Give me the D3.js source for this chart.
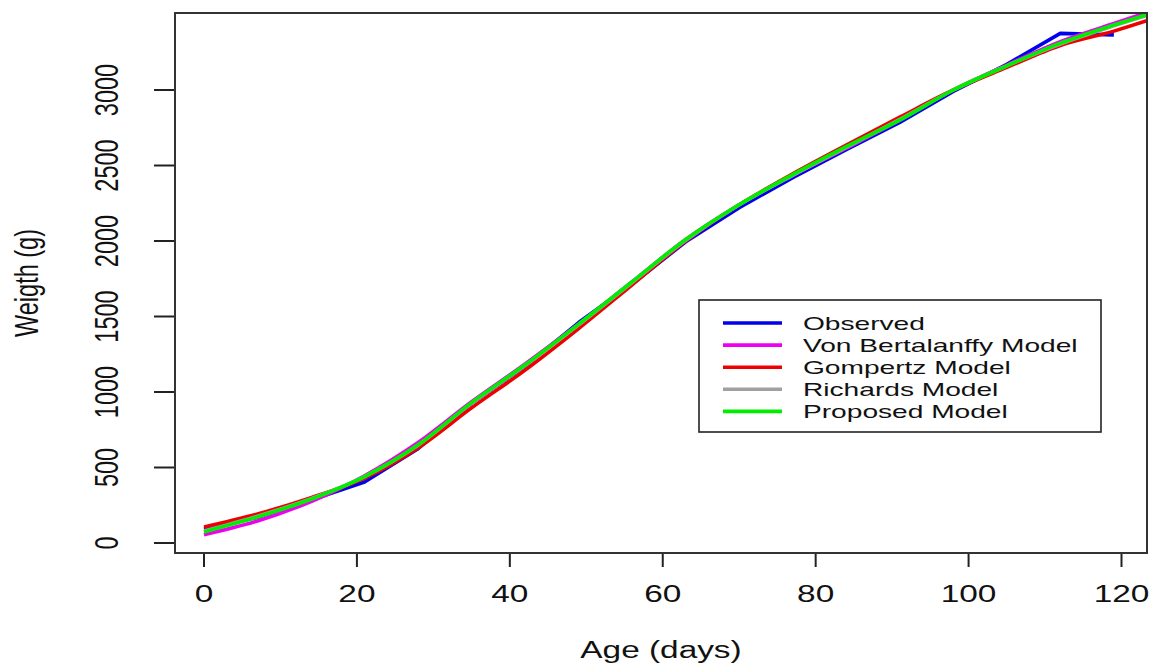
<!DOCTYPE html>
<html>
<head>
<meta charset="utf-8">
<script src="https://cdnjs.cloudflare.com/ajax/libs/d3/7.8.5/d3.min.js"></script>
<style>
	body { margin: 0; background: #fff; }
	text { font-family: "Liberation Sans", Arial, sans-serif; fill: #111; }
</style>
</head>
<body>
<script>

//age in days of every reading
let days = [0, 7, 14, 21, 28, 35, 42, 49, 56, 63, 70, 77, 84, 91, 98, 105, 112, 119];
let observed = [93, 170, 285, 404, 625, 925, 1170, 1460, 1715, 1995, 2220, 2420, 2605, 2785, 2990, 3170, 3375, 3365];

//the fitted curves run a little past the last reading
let modelDays = [0, 7, 14, 21, 28, 35, 42, 49, 56, 63, 70, 77, 84, 91, 98, 105, 112, 119, 124];
let vonBertalanffy = [55, 146, 275, 445, 665, 935, 1185, 1450, 1730, 2010, 2240, 2435, 2615, 2800, 3000, 3165, 3320, 3440, 3525];
let gompertz = [106, 192, 300, 430, 630, 895, 1145, 1420, 1710, 2000, 2240, 2445, 2635, 2820, 3000, 3150, 3295, 3390, 3470];
let richards = [80, 178, 294, 440, 648, 925, 1175, 1445, 1725, 2005, 2240, 2435, 2620, 2805, 3000, 3160, 3305, 3425, 3505];
let proposed = [73, 172, 290, 440, 650, 930, 1180, 1450, 1730, 2010, 2240, 2440, 2625, 2800, 3000, 3160, 3310, 3430, 3510];

let xTicks = [0, 20, 40, 60, 80, 100, 120];
let yTicks = [0, 500, 1000, 1500, 2000, 2500, 3000];

let seriesNames = ["Observed", "Von Bertalanffy Model", "Gompertz Model", "Richards Model", "Proposed Model"];
let seriesColors = ["#0000ee", "#ee00ee", "#ee0000", "#a0a0a0", "#00ee00"];

let svg = d3.select("body").append("svg")
	.attr("width", 1153)
	.attr("height", 663);

//plot box edges
let box = { left: 175, right: 1147, top: 13, bottom: 553 };
let stretch = 1.42; //the picture is wider than it is tall, text too

let x = d3.scaleLinear().domain([0, 120]).range([204, 1121.5]);
let y = d3.scaleLinear().domain([0, 3000]).range([543, 90]);

svg.append("clipPath").attr("id", "plotClip")
	.append("rect")
	.attr("x", box.left).attr("y", box.top)
	.attr("width", box.right - box.left).attr("height", box.bottom - box.top);

//lines, observed first so the models sit on top
let lineData = [
	{ name: seriesNames[0], color: seriesColors[0], pts: days.map((d, i) => [d, observed[i]]), curve: d3.curveLinear },
	{ name: seriesNames[1], color: seriesColors[1], pts: modelDays.map((d, i) => [d, vonBertalanffy[i]]), curve: d3.curveMonotoneX },
	{ name: seriesNames[2], color: seriesColors[2], pts: modelDays.map((d, i) => [d, gompertz[i]]), curve: d3.curveMonotoneX },
	{ name: seriesNames[3], color: seriesColors[3], pts: modelDays.map((d, i) => [d, richards[i]]), curve: d3.curveMonotoneX },
	{ name: seriesNames[4], color: seriesColors[4], pts: modelDays.map((d, i) => [d, proposed[i]]), curve: d3.curveMonotoneX }
];

let plotG = svg.append("g").attr("clip-path", "url(#plotClip)");

plotG.selectAll("path")
	.data(lineData)
	.enter().append("path")
	.attr("fill", "none")
	.attr("stroke", d => d.color)
	.attr("stroke-width", 3.6)
	.attr("stroke-linejoin", "round")
	.attr("d", d => d3.line().curve(d.curve).x(p => x(p[0])).y(p => y(p[1]))(d.pts));

//box round the plot
svg.append("rect")
	.attr("x", box.left).attr("y", box.top)
	.attr("width", box.right - box.left).attr("height", box.bottom - box.top)
	.attr("fill", "none")
	.attr("stroke", "#333")
	.attr("stroke-width", 2);

//x axis ticks and labels
let xAxis = svg.append("g");
xAxis.selectAll("line")
	.data(xTicks)
	.enter().append("line")
	.attr("x1", d => x(d)).attr("x2", d => x(d))
	.attr("y1", box.bottom + 1).attr("y2", box.bottom + 14)
	.attr("stroke", "#222").attr("stroke-width", 2);
xAxis.selectAll("text")
	.data(xTicks)
	.enter().append("text")
	.attr("text-anchor", "middle")
	.attr("font-size", 23.5)
	.attr("transform", d => `translate(${x(d)}, 602) scale(${stretch}, 1)`)
	.text(d => d);

//y axis ticks and labels
let yAxis = svg.append("g");
yAxis.selectAll("line")
	.data(yTicks)
	.enter().append("line")
	.attr("x1", box.left - 21).attr("x2", box.left - 1)
	.attr("y1", d => y(d)).attr("y2", d => y(d))
	.attr("stroke", "#222").attr("stroke-width", 2);
yAxis.selectAll("text")
	.data(yTicks)
	.enter().append("text")
	.attr("text-anchor", "middle")
	.attr("font-size", 23.5)
	.attr("transform", d => `translate(118, ${y(d)}) scale(${stretch}, 1) rotate(-90)`)
	.text(d => d);

//axis titles
svg.append("text")
	.attr("text-anchor", "middle")
	.attr("font-size", 23.5)
	.attr("transform", `translate(${(box.left + box.right) / 2}, 658) scale(${stretch}, 1)`)
	.text("Age (days)");

svg.append("text")
	.attr("text-anchor", "middle")
	.attr("font-size", 23.5)
	.attr("transform", `translate(38, ${(box.top + box.bottom) / 2}) scale(${stretch}, 1) rotate(-90)`)
	.text("Weigth (g)");

//legend
let legend = svg.append("g");
legend.append("rect")
	.attr("x", 699).attr("y", 300)
	.attr("width", 402).attr("height", 132)
	.attr("fill", "#fff")
	.attr("stroke", "#222")
	.attr("stroke-width", 1.6);

let legendRow = legend.selectAll(".row")
	.data(lineData)
	.enter().append("g")
	.attr("class", "row")
	.attr("transform", (d, i) => `translate(0, ${323 + i * 22.1})`);

legendRow.append("line")
	.attr("x1", 723).attr("x2", 782)
	.attr("stroke", d => d.color)
	.attr("stroke-width", 3.6);

legendRow.append("text")
	.attr("font-size", 18.5)
	.attr("dy", "0.36em")
	.attr("transform", `translate(803, 0) scale(1.52, 1)`)
	.text(d => d.name);

</script>
</body>
</html>
